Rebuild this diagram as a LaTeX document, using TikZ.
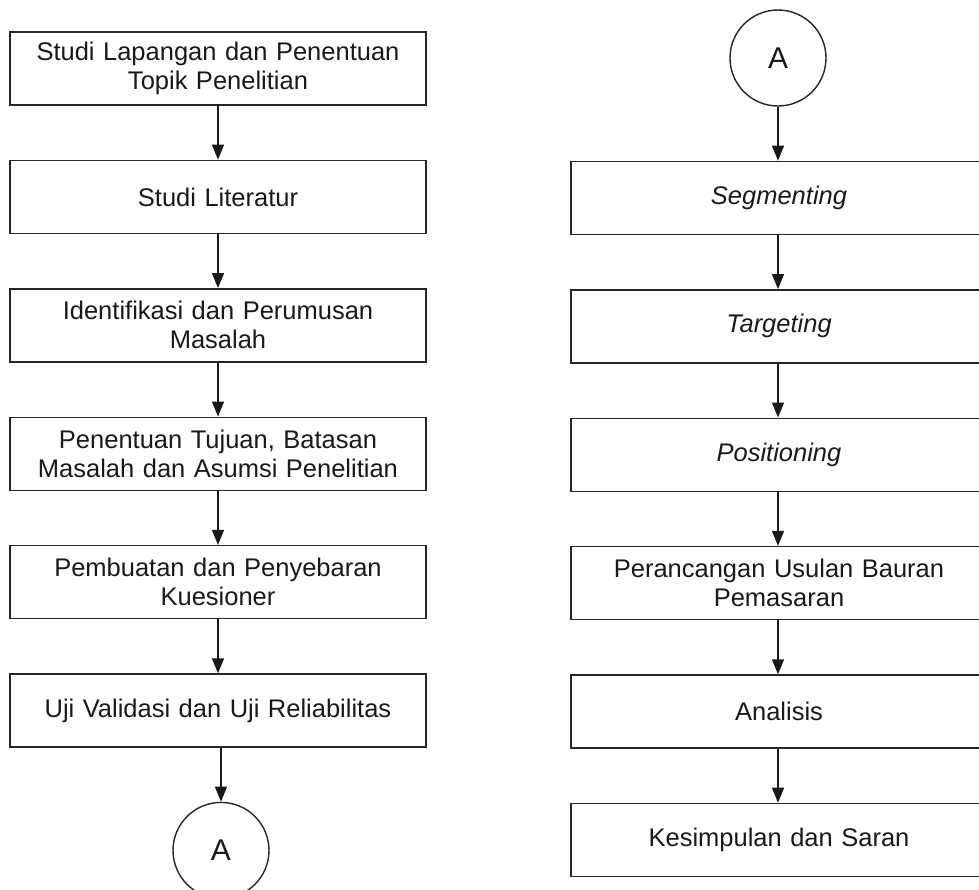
\documentclass[tikz,border=0pt]{standalone}
\usepackage{fontspec}
\setmainfont{Liberation Sans}
\usetikzlibrary{positioning, arrows.meta}

\begin{document}
\begin{tikzpicture}[x=1pt, y=1pt,
                        node distance=54pt,
                        box/.style={draw=black!85, line width=1.4pt, minimum width=416pt,
                                    minimum height=73pt, inner sep=2pt, text width=410pt},
                        konektor/.style={draw=black!85, line width=1.4pt, circle,
                                    minimum size=96pt, inner sep=0pt,
                                    font=\fontsize{30}{34}\selectfont},
                        panah/.style={draw=black!90, line width=1.4pt,
                                    -{Triangle[length=15pt, width=12pt]}},
                        every node/.style={font=\fontsize{25.5}{29}\selectfont, align=center,
                                    text=black!90}]

        \clip (0,0) rectangle (979,-889);

        % Left column
        \node[box] (lapangan) at (218,-68.5) {Studi Lapangan dan Penentuan\\Topik Penelitian};
        \node[box, below=of lapangan] (literatur) {Studi Literatur};
        \node[box, below=of literatur] (identifikasi) {Identifikasi dan Perumusan\\Masalah};
        \node[box, below=of identifikasi] (tujuan) {Penentuan Tujuan, Batasan\\Masalah dan Asumsi Penelitian};
        \node[box, below=of tujuan] (kuesioner) {Pembuatan dan Penyebaran\\Kuesioner};
        \node[box, below=of kuesioner] (uji) {Uji Validasi dan Uji Reliabilitas};
        \node[konektor, below=of uji, xshift=3pt] (akhir) {A};

        % Right column
        \node[konektor] (awal) at (778,-58) {A};
        \node[box, below=of awal, xshift=1pt] (segmenting) {\itshape Segmenting};
        \node[box, below=of segmenting] (targeting) {\itshape Targeting};
        \node[box, below=of targeting] (positioning) {\itshape Positioning};
        \node[box, below=of positioning] (perancangan) {Perancangan Usulan Bauran\\Pemasaran};
        \node[box, below=of perancangan] (analisis) {Analisis};
        \node[box, below=of analisis] (kesimpulan) {Kesimpulan dan Saran};

        % Arrows
        \draw[panah] (lapangan) -- (literatur);
        \draw[panah] (literatur) -- (identifikasi);
        \draw[panah] (identifikasi) -- (tujuan);
        \draw[panah] (tujuan) -- (kuesioner);
        \draw[panah] (kuesioner) -- (uji);
        \draw[panah] (uji.south -| akhir) -- (akhir);
        \draw[panah] (awal) -- (segmenting.north -| awal);
        \draw[panah] (segmenting.south -| awal) -- (targeting.north -| awal);
        \draw[panah] (targeting.south -| awal) -- (positioning.north -| awal);
        \draw[panah] (positioning.south -| awal) -- (perancangan.north -| awal);
        \draw[panah] (perancangan.south -| awal) -- (analisis.north -| awal);
        \draw[panah] (analisis.south -| awal) -- (kesimpulan.north -| awal);

    \end{tikzpicture}
\end{document}
